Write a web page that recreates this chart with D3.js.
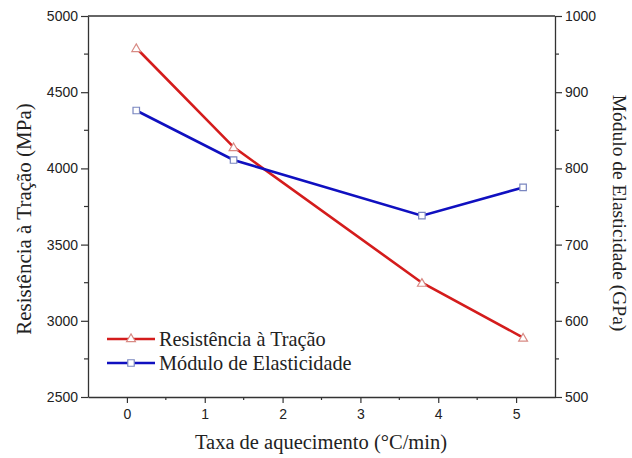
<!DOCTYPE html>
<html>
<head>
<meta charset="utf-8">
<script src="https://cdn.jsdelivr.net/npm/d3@7"></script>
<style>
  html, body { margin: 0; padding: 0; background: #fff; }
  svg { display: block; }
</style>
</head>
<body>
<svg id="chart" width="632" height="458"></svg>
<script>
// Heating rate (°C/min) at each measured point
const heatingRate = [0.12, 1.37, 3.79, 5.09];
// Tensile strength (MPa), left axis
const tensileStrength = [4790, 4140, 3250, 2890];
// Elastic modulus (GPa), right axis
const elasticModulus = [876, 811, 738, 775];

const xTicks = [0, 1, 2, 3, 4, 5];
const leftTicks = [2500, 3000, 3500, 4000, 4500, 5000];
const rightTicks = [500, 600, 700, 800, 900, 1000];

const seriesNames = ["Resistência à Tração", "Módulo de Elasticidade"];
const xTitle = "Taxa de aquecimento (°C/min)";
const leftTitle = "Resistência à Tração (MPa)";
const rightTitle = "Módulo de Elasticidade (GPa)";

const svg = d3.select("#chart");
const plot = { left: 88, right: 555, top: 16, bottom: 397 };

const x = d3.scaleLinear().domain([-0.5, 5.5]).range([plot.left, plot.right]);
const yL = d3.scaleLinear().domain([2500, 5000]).range([plot.bottom, plot.top]);
const yR = d3.scaleLinear().domain([500, 1000]).range([plot.bottom, plot.top]);

const tickFont = "'Liberation Sans', Arial, sans-serif";
const titleFont = "'Liberation Serif', 'Times New Roman', serif";
const axisColor = "#333";

// frame top line
svg.append("line")
  .attr("x1", plot.left).attr("x2", plot.right)
  .attr("y1", plot.top).attr("y2", plot.top)
  .attr("stroke", axisColor).attr("stroke-width", 1.3);

function styleAxis(g) {
  g.select(".domain").attr("stroke", axisColor).attr("stroke-width", 1.3);
  g.selectAll(".tick line").attr("stroke", axisColor).attr("stroke-width", 1.2);
  g.selectAll(".tick text")
    .attr("fill", "#222")
    .style("font-family", tickFont)
    .style("font-size", "14px");
}

function minorTicks(g, scale, values, orient, len) {
  values.forEach(v => {
    const p = scale(v);
    if (orient === "left") g.append("line").attr("x1", plot.left - len).attr("x2", plot.left).attr("y1", p).attr("y2", p);
    if (orient === "right") g.append("line").attr("x1", plot.right).attr("x2", plot.right + len).attr("y1", p).attr("y2", p);
    if (orient === "bottom") g.append("line").attr("x1", p).attr("x2", p).attr("y1", plot.bottom).attr("y2", plot.bottom + len);
  });
  g.selectAll("line").attr("stroke", axisColor).attr("stroke-width", 1.2);
}

// bottom axis
const gx = svg.append("g").attr("transform", `translate(0,${plot.bottom})`)
  .call(d3.axisBottom(x).tickValues(xTicks).tickFormat(d3.format("d")).tickSizeInner(6).tickSizeOuter(0).tickPadding(6));
styleAxis(gx);
minorTicks(svg.append("g"), x, xTicks.map(d => d + 0.5).filter(d => d < 5.5), "bottom", 3);

// left axis
const gl = svg.append("g").attr("transform", `translate(${plot.left},0)`)
  .call(d3.axisLeft(yL).tickValues(leftTicks).tickFormat(d3.format("d")).tickSizeInner(7).tickSizeOuter(0).tickPadding(3));
styleAxis(gl);
minorTicks(svg.append("g"), yL, leftTicks.slice(0, -1).map(d => d + 250), "left", 4);

// right axis
const gr = svg.append("g").attr("transform", `translate(${plot.right},0)`)
  .call(d3.axisRight(yR).tickValues(rightTicks).tickFormat(d3.format("d")).tickSizeInner(7).tickSizeOuter(0).tickPadding(3));
styleAxis(gr);
minorTicks(svg.append("g"), yR, rightTicks.slice(0, -1).map(d => d + 50), "right", 4);

// axis titles
svg.append("text")
  .attr("x", 321).attr("y", 449)
  .attr("text-anchor", "middle")
  .style("font-family", titleFont).style("font-size", "20.5px").attr("fill", "#222")
  .text(xTitle);

svg.append("text")
  .attr("transform", `translate(31,219) rotate(-90)`)
  .attr("text-anchor", "middle")
  .style("font-family", titleFont).style("font-size", "21px").attr("fill", "#222")
  .text(leftTitle);

svg.append("text")
  .attr("transform", `translate(613,213) rotate(90)`)
  .attr("text-anchor", "middle")
  .style("font-family", titleFont).style("font-size", "19.5px").attr("fill", "#222")
  .text(rightTitle);

const redLine = "#d41c1c", blueLine = "#1010c0";
const redMarker = "#d88a84", blueMarker = "#7a86c0";

const tensileData = heatingRate.map((r, i) => [r, tensileStrength[i]]);
const modulusData = heatingRate.map((r, i) => [r, elasticModulus[i]]);

const triangle = d3.symbol().type(d3.symbolTriangle).size(34);
const square = d3.symbol().type(d3.symbolSquare).size(42);

// tensile strength series
svg.append("path").datum(tensileData)
  .attr("fill", "none").attr("stroke", redLine).attr("stroke-width", 2.6)
  .attr("d", d3.line().x(d => x(d[0])).y(d => yL(d[1])));

// elastic modulus series
svg.append("path").datum(modulusData)
  .attr("fill", "none").attr("stroke", blueLine).attr("stroke-width", 2.6)
  .attr("d", d3.line().x(d => x(d[0])).y(d => yR(d[1])));

svg.selectAll(".tri").data(tensileData).join("path")
  .attr("transform", d => `translate(${x(d[0])},${yL(d[1]) + 1})`)
  .attr("d", triangle).attr("fill", "#fff").attr("stroke", redMarker).attr("stroke-width", 1.2);

svg.selectAll(".sq").data(modulusData).join("path")
  .attr("transform", d => `translate(${x(d[0])},${yR(d[1])})`)
  .attr("d", square).attr("fill", "#fff").attr("stroke", blueMarker).attr("stroke-width", 1.2);

// legend
const legend = [
  { name: seriesNames[0], line: redLine, marker: redMarker, sym: triangle, y: 339 },
  { name: seriesNames[1], line: blueLine, marker: blueMarker, sym: square, y: 363 }
];
const lg = svg.append("g");
legend.forEach(l => {
  lg.append("line").attr("x1", 107).attr("x2", 155).attr("y1", l.y).attr("y2", l.y)
    .attr("stroke", l.line).attr("stroke-width", 2.6);
  lg.append("path").attr("transform", `translate(131,${l.y})`).attr("d", l.sym)
    .attr("fill", "#fff").attr("stroke", l.marker).attr("stroke-width", 1.2);
  lg.append("text").attr("x", 159).attr("y", l.y + 7)
    .style("font-family", titleFont).style("font-size", "20.3px").attr("fill", "#222")
    .text(l.name);
});
</script>
</body>
</html>
